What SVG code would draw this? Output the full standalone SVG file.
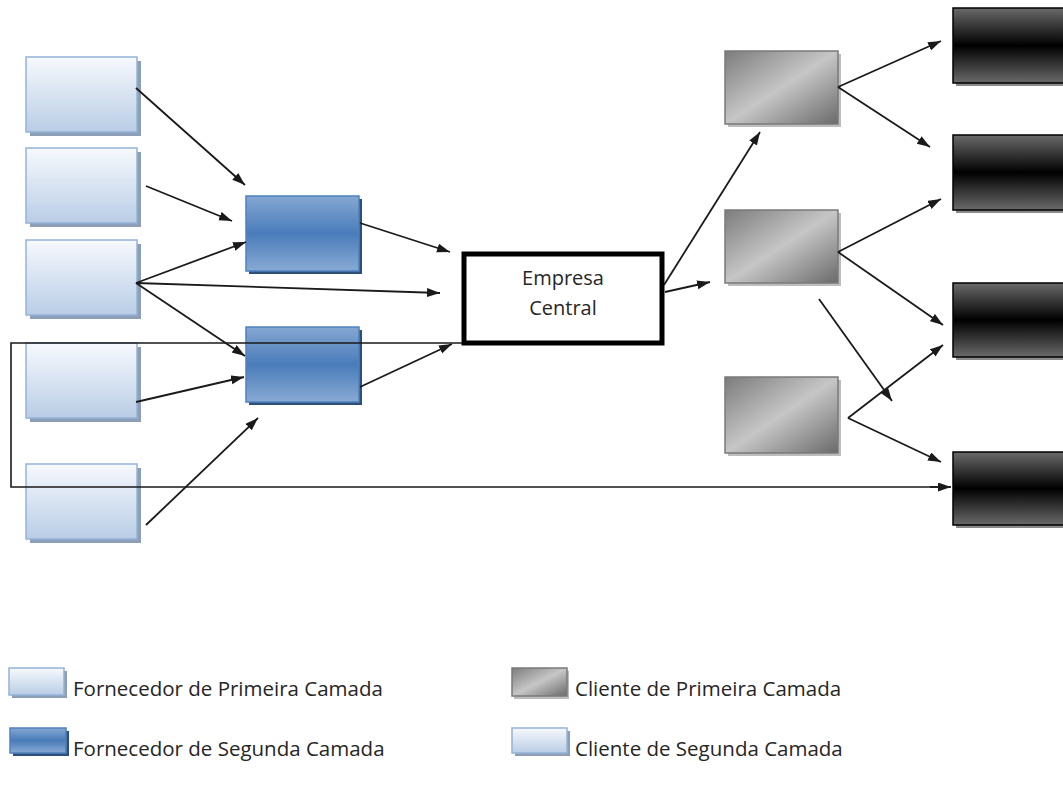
<svg xmlns="http://www.w3.org/2000/svg" width="1063" height="796" viewBox="0 0 1063 796">
  <style>
    .lb { fill: url(#gLight); stroke: #95b3d7; stroke-width: 1.5; }
    .lbs { fill: #8d9fb6; }
    .db { fill: url(#gDark); stroke: #4f81bd; stroke-width: 1.5; }
    .dbs { fill: #2d4f78; }
    .gb { fill: url(#gGray); stroke: #7a7a7a; stroke-width: 1.5; }
    .gbs { fill: #bdbdbd; }
    .bb { fill: url(#gBlack); stroke: #000; stroke-width: 1.5; }
    .bbs { fill: #8a8a8a; }
    .edge { fill: none; stroke: #1a1a1a; stroke-width: 1.8; marker-end: url(#arr); }
    .loop { fill: none; stroke: #1a1a1a; stroke-width: 1.6; }
    .lbl { font-family: "Open Sans", "Liberation Sans", sans-serif; fill: #262626; }
  </style>
  <defs>
    <linearGradient id="gLight" x1="0" y1="0" x2="0" y2="1">
      <stop offset="0" stop-color="#f7f9fd"/>
      <stop offset="1" stop-color="#b9cde5"/>
    </linearGradient>
    <linearGradient id="gDark" x1="0" y1="0" x2="0" y2="1">
      <stop offset="0" stop-color="#85a7d2"/>
      <stop offset="0.5" stop-color="#4a7cba"/>
      <stop offset="1" stop-color="#88aad4"/>
    </linearGradient>
    <linearGradient id="gGray" x1="0" y1="0" x2="1" y2="1">
      <stop offset="0" stop-color="#7c7c7c"/>
      <stop offset="0.5" stop-color="#c6c6c6"/>
      <stop offset="1" stop-color="#6a6a6a"/>
    </linearGradient>
    <linearGradient id="gBlack" x1="0" y1="0" x2="0" y2="1">
      <stop offset="0" stop-color="#6a6a6a"/>
      <stop offset="0.5" stop-color="#000"/>
      <stop offset="1" stop-color="#6a6a6a"/>
    </linearGradient>
    <marker id="arr" markerUnits="userSpaceOnUse" markerWidth="14" markerHeight="10" refX="13" refY="4.5" orient="auto">
      <path d="M0,0 L13,4.5 L0,9 z" fill="#1a1a1a"/>
    </marker>
  </defs>

  <!-- first tier suppliers -->
  <g id="f1a"><rect class="lbs" x="30" y="61" width="111" height="75"/><rect class="lb" x="26" y="57" width="111" height="75"/></g>
  <g id="f1b"><rect class="lbs" x="30" y="152" width="111" height="75"/><rect class="lb" x="26" y="148" width="111" height="75"/></g>
  <g id="f1c"><rect class="lbs" x="30" y="244" width="111" height="75"/><rect class="lb" x="26" y="240" width="111" height="75"/></g>
  <g id="f1d"><rect class="lbs" x="30" y="347" width="111" height="75"/><rect class="lb" x="26" y="343" width="111" height="75"/></g>
  <g id="f1e"><rect class="lbs" x="30" y="468" width="111" height="75"/><rect class="lb" x="26" y="464" width="111" height="75"/></g>

  <!-- second tier suppliers -->
  <g id="f2a"><rect class="dbs" x="249" y="199" width="113" height="75"/><rect class="db" x="246" y="196" width="113" height="75"/></g>
  <g id="f2b"><rect class="dbs" x="249" y="330" width="113" height="75"/><rect class="db" x="246" y="327" width="113" height="75"/></g>

  <!-- focal company -->
  <g id="central">
    <rect x="464" y="254" width="198" height="89" fill="#fff" stroke="#000" stroke-width="5"/>
    <text class="lbl" x="563" y="285" font-size="20" text-anchor="middle" fill="#404040">Empresa</text>
    <text class="lbl" x="563" y="315" font-size="20" text-anchor="middle" fill="#404040">Central</text>
  </g>

  <!-- first tier customers -->
  <g id="c1a"><rect class="gbs" x="728" y="54" width="113" height="73"/><rect class="gb" x="725" y="51" width="113" height="73"/></g>
  <g id="c1b"><rect class="gbs" x="728" y="213" width="113" height="73"/><rect class="gb" x="725" y="210" width="113" height="73"/></g>
  <g id="c1c"><rect class="gbs" x="728" y="380" width="113" height="76"/><rect class="gb" x="725" y="377" width="113" height="76"/></g>

  <!-- second tier customers -->
  <g id="c2a"><rect class="bbs" x="956" y="11" width="120" height="75"/><rect class="bb" x="953" y="8" width="120" height="75"/></g>
  <g id="c2b"><rect class="bbs" x="956" y="138" width="120" height="75"/><rect class="bb" x="953" y="135" width="120" height="75"/></g>
  <g id="c2c"><rect class="bbs" x="956" y="286" width="120" height="74"/><rect class="bb" x="953" y="283" width="120" height="74"/></g>
  <g id="c2d"><rect class="bbs" x="956" y="455" width="120" height="73"/><rect class="bb" x="953" y="452" width="120" height="73"/></g>

  <!-- connectors -->
  <g id="connectors">
    <line class="edge" x1="136" y1="88" x2="245" y2="185"/>
    <line class="edge" x1="146" y1="186" x2="232" y2="221"/>
    <line class="edge" x1="136" y1="283" x2="246" y2="242"/>
    <line class="edge" x1="136" y1="283" x2="440" y2="293"/>
    <line class="edge" x1="136" y1="283" x2="245" y2="356"/>
    <line class="edge" x1="136" y1="402" x2="244" y2="377"/>
    <line class="edge" x1="146" y1="525" x2="258" y2="418"/>
    <line class="edge" x1="360" y1="223" x2="450" y2="252"/>
    <line class="edge" x1="360" y1="387" x2="452" y2="344"/>
    <polyline class="loop" points="462,343 11,343 11,487 940,487"/>
    <line class="edge" x1="930" y1="487" x2="951" y2="487"/>
    <line class="edge" x1="664" y1="285" x2="760" y2="132"/>
    <line class="edge" x1="665" y1="292" x2="710" y2="282"/>
    <line class="edge" x1="838" y1="87" x2="941" y2="41"/>
    <line class="edge" x1="838" y1="87" x2="930" y2="147"/>
    <line class="edge" x1="838" y1="252" x2="941" y2="199"/>
    <line class="edge" x1="838" y1="252" x2="943" y2="325"/>
    <line class="edge" x1="819" y1="299" x2="892" y2="401"/>
    <line class="edge" x1="848" y1="418" x2="943" y2="345"/>
    <line class="edge" x1="848" y1="418" x2="941" y2="462"/>
  </g>

  <!-- legend -->
  <g id="legend-f1">
    <rect class="lbs" x="12" y="671" width="55" height="27"/>
    <rect class="lb" x="9" y="668" width="55" height="27"/>
    <text class="lbl" x="73" y="696" font-size="20.5">Fornecedor de Primeira Camada</text>
  </g>
  <g id="legend-f2">
    <rect class="dbs" x="13" y="731" width="56" height="25"/>
    <rect class="db" x="10" y="728" width="56" height="25"/>
    <text class="lbl" x="73" y="756" font-size="20.5">Fornecedor de Segunda Camada</text>
  </g>
  <g id="legend-c1">
    <rect class="gbs" x="514" y="671" width="55" height="28"/>
    <rect class="gb" x="512" y="668" width="55" height="28"/>
    <text class="lbl" x="575" y="696" font-size="20.5">Cliente de Primeira Camada</text>
  </g>
  <g id="legend-c2">
    <rect class="lbs" x="515" y="731" width="55" height="25"/>
    <rect class="lb" x="512" y="728" width="55" height="25"/>
    <text class="lbl" x="575" y="756" font-size="20.5">Cliente de Segunda Camada</text>
  </g>
</svg>
